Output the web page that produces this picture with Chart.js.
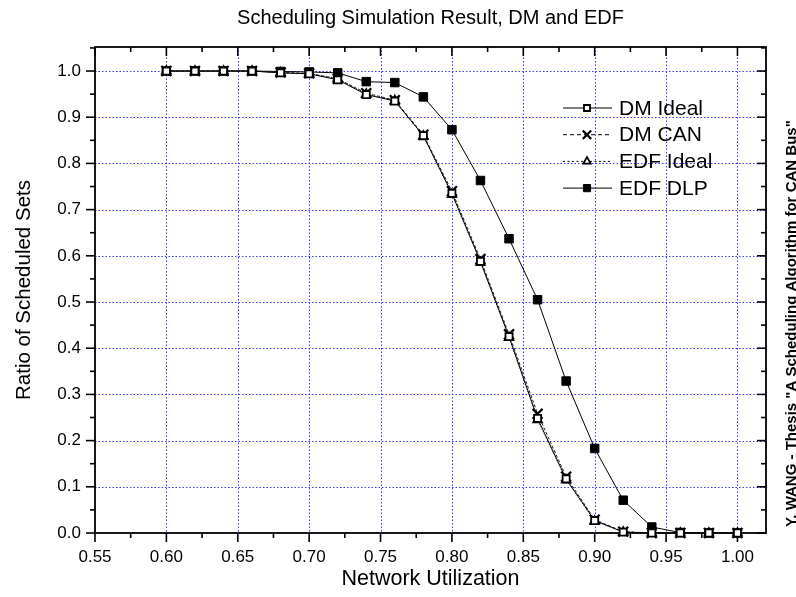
<!DOCTYPE html>
<html>
<head>
<meta charset="utf-8">
<script src="https://cdn.jsdelivr.net/npm/chart.js@4.4.1/dist/chart.umd.min.js"></script>
<style>
html,body{margin:0;padding:0;background:#fff;}
</style>
</head>
<body>
<canvas id="chart" width="796" height="597"></canvas>
<script>
const utilization = [0.60,0.62,0.64,0.66,0.68,0.70,0.72,0.74,0.76,0.78,0.80,0.82,0.84,0.86,0.88,0.90,0.92,0.94,0.96,0.98,1.00];

const dmIdeal  = [1.0,1.0,1.0,1.0,0.996,0.994,0.981,0.949,0.935,0.860,0.735,0.588,0.425,0.248,0.117,0.027,0.002,0,0,0,0];
const dmCan    = [1.0,1.0,1.0,1.0,0.997,0.995,0.983,0.952,0.937,0.862,0.740,0.593,0.430,0.258,0.122,0.029,0.003,0,0,0,0];
const edfIdeal = [1.0,1.0,1.0,1.0,0.996,0.994,0.984,0.950,0.936,0.859,0.733,0.586,0.423,0.245,0.115,0.026,0.002,0,0,0,0];
const edfDlp   = [1.0,1.0,1.0,1.0,0.999,0.998,0.996,0.977,0.975,0.944,0.873,0.763,0.637,0.505,0.329,0.183,0.071,0.013,0.001,0,0];

const xTicks = [0.55,0.60,0.65,0.70,0.75,0.80,0.85,0.90,0.95,1.00];
const yTicks = [0.0,0.1,0.2,0.3,0.4,0.5,0.6,0.7,0.8,0.9,1.0];

const FONT = "'Liberation Sans', Arial, sans-serif";

function pts(vals){
  return utilization.map((u,i) => ({x:u, y:vals[i]}));
}

const datasets = [
  {label:"DM Ideal", data:pts(dmIdeal), borderColor:"#000", borderWidth:1, borderDash:[],
   pointStyle:"rect", pointRadius:5, pointBackgroundColor:"#fff", pointBorderColor:"#000", pointBorderWidth:1.8},
  {label:"DM CAN", data:pts(dmCan), borderColor:"#222", borderWidth:1, borderDash:[3,2],
   pointStyle:"crossRot", pointRadius:7, pointBackgroundColor:"#000", pointBorderColor:"#000", pointBorderWidth:2.2},
  {label:"EDF Ideal", data:pts(edfIdeal), borderColor:"#222", borderWidth:1, borderDash:[1,1.5],
   pointStyle:"triangle", pointRadius:5, pointBackgroundColor:"#fff", pointBorderColor:"#000", pointBorderWidth:1.8},
  {label:"EDF DLP", data:pts(edfDlp), borderColor:"#000", borderWidth:1, borderDash:[],
   pointStyle:"rect", pointRadius:6, pointBackgroundColor:"#000", pointBorderColor:"#000", pointBorderWidth:1}
];
datasets.forEach(d => { d.showLine = true; d.fill = false; d.tension = 0; d.clip = false; });

function minors(ticks, max){
  const out = [];
  for(let i=0;i<ticks.length;i++){
    const step = i<ticks.length-1 ? ticks[i+1]-ticks[i] : ticks[1]-ticks[0];
    const m = ticks[i] + step/2;
    if(m <= max) out.push(m);
  }
  return out;
}

function seg(ctx,x1,y1,x2,y2){
  ctx.beginPath(); ctx.moveTo(x1,y1); ctx.lineTo(x2,y2); ctx.stroke();
}

const decor = {
  id:"decor",
  beforeDatasetsDraw(chart){
    const {ctx, chartArea:a, scales:{x,y}} = chart;
    ctx.save();
    // grid
    ctx.strokeStyle = "#3a3aff"; ctx.lineWidth = 1; ctx.setLineDash([1.5,2]);
    xTicks.slice(1).forEach(v => { const p = Math.round(x.getPixelForValue(v))+0.5; seg(ctx,p,a.top,p,a.bottom); });
    yTicks.slice(1).forEach(v => { const p = Math.round(y.getPixelForValue(v))+0.5; seg(ctx,a.left,p,a.right,p); });
    ctx.setLineDash([]);
    // frame
    ctx.strokeStyle = "#000"; ctx.lineWidth = 1.8;
    ctx.strokeRect(a.left, a.top, a.right-a.left, a.bottom-a.top);
    // ticks
    ctx.lineWidth = 1.6;
    xTicks.forEach(v => { const p = x.getPixelForValue(v); seg(ctx,p,a.bottom,p,a.bottom+9); seg(ctx,p,a.top,p,a.top+9); });
    minors(xTicks, x.max).forEach(v => { const p = x.getPixelForValue(v); seg(ctx,p,a.bottom,p,a.bottom+5); seg(ctx,p,a.top,p,a.top+5); });
    yTicks.forEach(v => { const p = y.getPixelForValue(v); seg(ctx,a.left-9,p,a.left,p); seg(ctx,a.right-9,p,a.right,p); });
    minors(yTicks, y.max).forEach(v => { const p = y.getPixelForValue(v); seg(ctx,a.left-5,p,a.left,p); seg(ctx,a.right-5,p,a.right,p); });
    ctx.restore();
  },
  afterDraw(chart){
    const {ctx, chartArea:a} = chart;
    ctx.save();
    ctx.fillStyle = "#000";
    // title
    ctx.font = "20px " + FONT; ctx.textAlign = "center"; ctx.textBaseline = "middle";
    ctx.fillText("Scheduling Simulation Result, DM and EDF", (a.left+a.right)/2, 18);
    // axis titles
    ctx.font = "21.5px " + FONT;
    ctx.fillText("Network Utilization", (a.left+a.right)/2, 579);
    ctx.save();
    ctx.font = "20.5px " + FONT;
    ctx.translate(24, (a.top+a.bottom)/2); ctx.rotate(-Math.PI/2);
    ctx.fillText("Ratio of Scheduled Sets", 0, 0);
    ctx.restore();
    // side note
    ctx.save();
    ctx.font = "bold 15px " + FONT; ctx.textAlign = "left"; ctx.textBaseline = "alphabetic";
    ctx.translate(796, 527); ctx.rotate(-Math.PI/2);
    ctx.fillText('Y. WANG - Thesis "A Scheduling Algorithm for CAN Bus"', 0, 0);
    ctx.restore();
    // legend
    ctx.font = "21px " + FONT; ctx.textAlign = "left"; ctx.textBaseline = "middle";
    chart.data.datasets.forEach((d,i) => {
      const ly = 108 + i*26.7;
      ctx.strokeStyle = "#000"; ctx.lineWidth = 1; ctx.setLineDash(d.borderDash.length ? [d.borderDash[0]+1, d.borderDash[1]+1] : []);
      seg(ctx,563,ly,612,ly);
      ctx.setLineDash([]);
      ctx.fillStyle = d.pointBackgroundColor; ctx.strokeStyle = d.pointBorderColor; ctx.lineWidth = d.pointBorderWidth;
      Chart.helpers.drawPoint(ctx, {pointStyle:d.pointStyle, radius:d.pointRadius*0.85, rotation:0, borderWidth:d.pointBorderWidth}, 587, ly);
      ctx.fillStyle = "#000";
      ctx.fillText(d.label, 619, ly+1);
    });
    ctx.restore();
  }
};

new Chart(document.getElementById("chart"), {
  type:"scatter",
  data:{datasets:datasets},
  options:{
    responsive:false,
    animation:false,
    layout:{padding:{left:0, top:47, right:30, bottom:0}},
    plugins:{legend:{display:false}, tooltip:{enabled:false}, title:{display:false}},
    scales:{
      x:{
        type:"linear", min:0.55, max:1.02,
        afterBuildTicks: s => { s.ticks = xTicks.map(v => ({value:v})); },
        afterFit: s => { s.height = 64; },
        grid:{display:false, drawTicks:false}, border:{display:false},
        ticks:{padding:14, color:"#000", font:{family:FONT, size:17}, callback: v => Number(v).toFixed(2), maxRotation:0, autoSkip:false}
      },
      y:{
        type:"linear", min:0, max:1.052,
        afterBuildTicks: s => { s.ticks = yTicks.map(v => ({value:v})); },
        afterFit: s => { s.width = 95; },
        grid:{display:false, drawTicks:false}, border:{display:false},
        ticks:{padding:14, color:"#000", font:{family:FONT, size:17}, callback: v => Number(v).toFixed(1), autoSkip:false}
      }
    }
  },
  plugins:[decor]
});
</script>
</body>
</html>
